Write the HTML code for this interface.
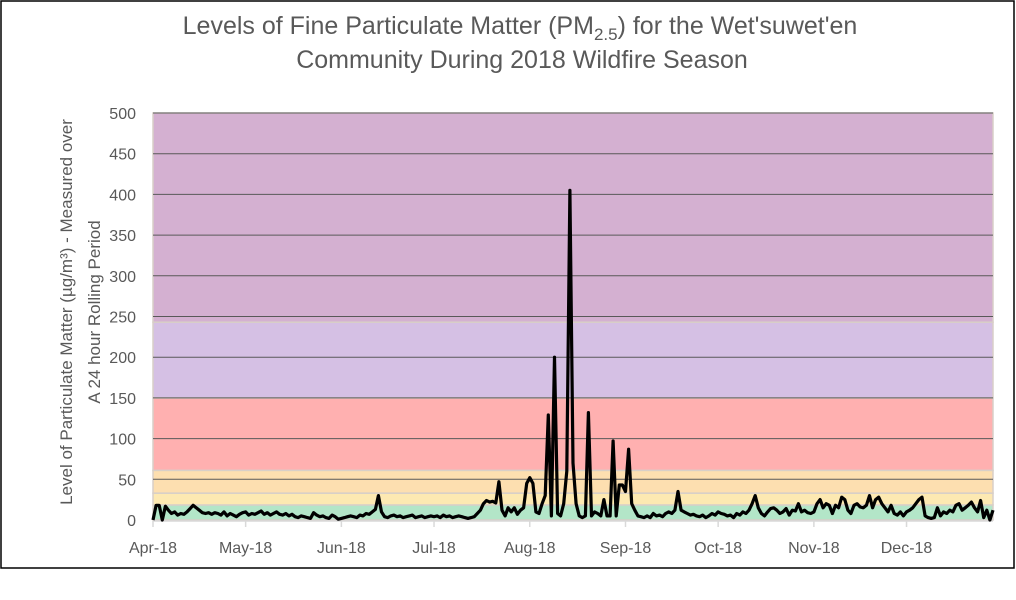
<!DOCTYPE html>
<html><head><meta charset="utf-8"><style>
body{margin:0;background:#fff;}
svg{display:block;font-family:"Liberation Sans",sans-serif;}
</style></head><body>
<svg id="c" width="1016" height="600">
<rect x="1" y="1" width="1013" height="567" fill="#fff" stroke="#000" stroke-width="1.5"/>
<g fill="#595959" font-size="25" text-anchor="middle">
<text x="520" y="34">Levels of Fine Particulate Matter (PM<tspan font-size="17" dy="6">2.5</tspan><tspan dy="-6">) for the Wet'suwet'en</tspan></text>
<text x="522" y="68">Community During 2018 Wildfire Season</text>
</g>
<g transform="translate(72,312) rotate(-90)" fill="#595959" font-size="17" text-anchor="middle">
<text x="0" y="0">Level of Particulate Matter (µg/m³) - Measured over</text>
<text x="0" y="28">A 24 hour Rolling Period</text>
</g>
<g id="bands"></g><g id="grid"></g><g id="ticks"></g><g id="xt"></g><g id="line"></g>
</svg>
<script>
const bandLimits=[0,18.5,33,61,150,243,500];
const bandColors=["#b3e6c8","#fde9b2","#fddfb0","#ffb0b0","#d5c0e4","#d4b0d1"];
const yTicks=[0,50,100,150,200,250,300,350,400,450,500];
const monthLabels=["Apr-18","May-18","Jun-18","Jul-18","Aug-18","Sep-18","Oct-18","Nov-18","Dec-18"];
const monthDays=[30,31,30,31,31,30,31,30,29];
const apr=[0,18,18,0,17,12,8,10,6,8,7,10,14,18,15,12,9,8,9,7,9,8,6,10,5,8,6,4,7,9];
const may=[10,6,8,7,9,11,7,9,6,8,10,7,6,8,5,7,4,3,5,4,3,2,9,6,4,5,3,2,6,4,1];
const jun=[2,3,4,5,4,3,6,5,8,7,10,13,30,10,4,3,5,6,4,5,3,4,5,6,3,4,5,3,4,5];
const jul=[4,5,3,6,4,5,3,4,5,4,3,2,3,4,8,12,20,24,22,23,21,47,12,5,15,10,15,7,12,15,45];
const aug=[52,45,10,8,20,30,129,5,200,8,5,20,60,405,70,20,5,3,5,132,5,10,8,5,25,5,5,97,5,43,43];
const sep=[35,87,20,12,5,4,3,5,3,8,5,6,4,8,10,8,12,35,12,10,8,6,7,5,4,6,3,5,8,6];
const oct=[10,8,7,5,6,3,8,6,10,8,12,20,30,15,8,5,10,14,15,12,8,10,14,6,12,11,20,10,12,9,8];
const nov=[10,20,25,15,20,18,8,18,15,28,25,12,8,18,20,16,15,18,30,15,25,28,20,15,10,18,8,6,10,5];
const dec=[10,12,15,20,25,28,5,3,2,3,15,5,10,8,12,10,18,20,12,15,18,22,15,10,24,3,12,0,12];
const values=[].concat(apr,may,jun,jul,aug,sep,oct,nov,dec);
const NS="http://www.w3.org/2000/svg";
const X0=153,X1=993,Y0=520,Y1=113;
const totalDays=monthDays.reduce((a,b)=>a+b,0);
const xs=d=>X0+(X1-X0)*d/(totalDays-1);
const ys=v=>Y0-(Y0-Y1)*v/500;
function mk(t,p,a){const e=document.createElementNS(NS,t);for(const k in a)e.setAttribute(k,a[k]);p.appendChild(e);return e;}
const gb=document.getElementById('bands');
for(let i=0;i<bandColors.length;i++){
 const r=mk('rect',gb,{x:X0,y:ys(bandLimits[i+1]),width:X1-X0,height:ys(bandLimits[i])-ys(bandLimits[i+1]),fill:bandColors[i],stroke:"#d8cfc8","stroke-width":1.5});
 
 
}
const gg=document.getElementById('grid'),gt=document.getElementById('ticks');
yTicks.forEach(v=>{
 if(v>0){const l=mk('line',gg,{x1:X0,x2:X1,y1:ys(v),y2:ys(v),stroke:"#595959","stroke-width":1});
 
 }
 const t=mk('text',gt,{x:136,y:ys(v)+6,"text-anchor":"end","font-size":16,fill:"#595959"});t.textContent=v;
 
 
});
mk('line',gg,{x1:X0,x2:X1,y1:Y0+1,y2:Y0+1,stroke:"#d9d9d9","stroke-width":1.5});
const gx=document.getElementById('xt');let d=0;
monthLabels.forEach((m,i)=>{
 const x=xs(d);
 mk('line',gx,{x1:x,x2:x,y1:Y0+1,y2:Y0+7,stroke:"#d9d9d9","stroke-width":1.5});
 const t=mk('text',gx,{x:x,y:553,"text-anchor":"middle","font-size":16,fill:"#595959"});t.textContent=m;
 
 
 d+=monthDays[i];
});
const pts=values.map((v,i)=>xs(i).toFixed(1)+","+ys(v).toFixed(1)).join(" ");
const pl=mk('polyline',document.getElementById('line'),{points:pts,fill:"none",stroke:"#000","stroke-width":3.2,"stroke-linejoin":"round"});


</script>
</body></html>
